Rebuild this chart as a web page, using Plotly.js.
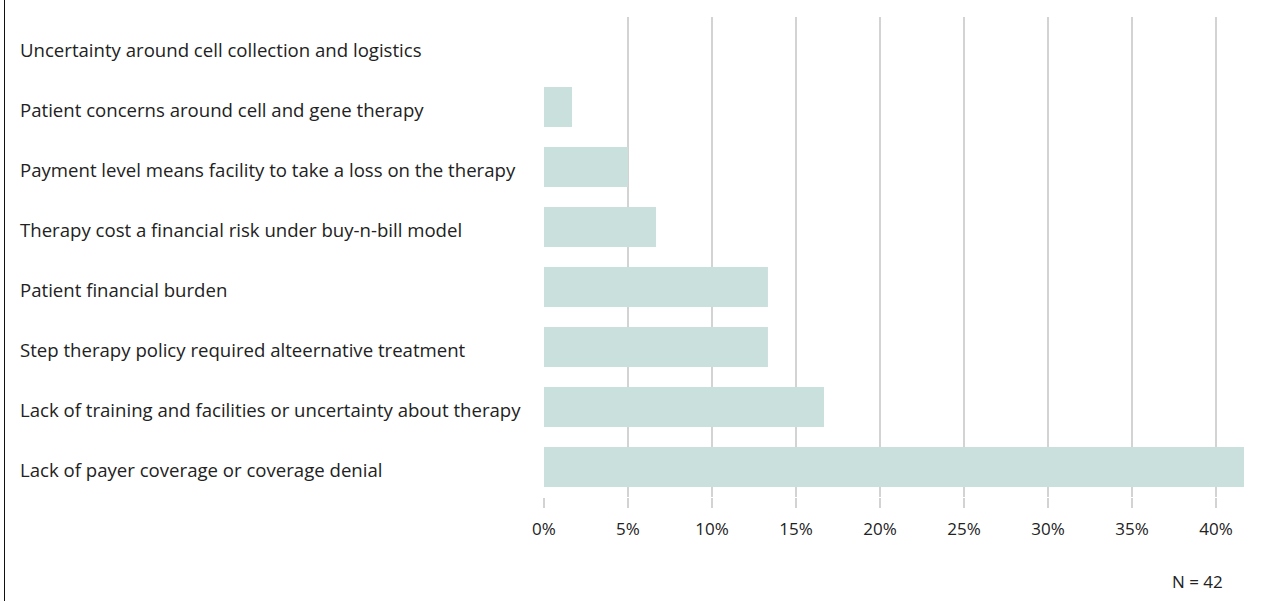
<!DOCTYPE html>
<html>
<head>
<meta charset="utf-8">
<script src="https://cdn.plot.ly/plotly-3.0.1.min.js"></script>
<style>
html,body{margin:0;padding:0;background:#fff;}
#chart{width:1267px;height:601px;position:relative;}
#edge{position:absolute;left:4px;top:0;width:1px;height:601px;background:#111;}
</style>
</head>
<body>
<div id="chart"></div>
<div id="edge"></div>
<script>
const categories = [
  "Uncertainty around cell collection and logistics",
  "Patient concerns around cell and gene therapy",
  "Payment level means facility to take a loss on the therapy",
  "Therapy cost a financial risk under buy-n-bill model",
  "Patient financial burden",
  "Step therapy policy required alteernative treatment",
  "Lack of training and facilities or uncertainty about therapy",
  "Lack of payer coverage or coverage denial"
];
const values = [0, 1.67, 5.0, 6.67, 13.33, 13.33, 16.67, 41.67];
const tickVals = [0, 5, 10, 15, 20, 25, 30, 35, 40];
const tickText = ["0%", "5%", "10%", "15%", "20%", "25%", "30%", "35%", "40%"];
const noteText = "N = 42";

const W = 1267, H = 601;
const mL = 544, mR = 23, mT = 17, mB = 104;
const plotW = W - mL - mR;
const font = "'Open Sans', sans-serif";

const annotations = categories.map(c => ({
  xref: 'paper', yref: 'y', x: (18 - mL) / plotW, y: c,
  xanchor: 'left', yanchor: 'middle', yshift: -2, text: c, showarrow: false,
  font: {family: font, size: 18.6, color: '#222'}
}));
annotations.push({
  xref: 'paper', yref: 'paper', x: (1197 - mL) / plotW, y: -(581 - (H - mB)) / (H - mT - mB),
  xanchor: 'center', yanchor: 'middle', text: noteText, showarrow: false,
  font: {family: font, size: 17, color: '#222'}
});

Plotly.newPlot('chart', [{
  type: 'bar', orientation: 'h',
  y: categories, x: values,
  marker: {color: '#cae0dd'},
  hoverinfo: 'none'
}], {
  width: W, height: H,
  margin: {l: mL, r: mR, t: mT, b: mB, pad: 0},
  paper_bgcolor: '#fff', plot_bgcolor: '#fff',
  bargap: 1/3,
  showlegend: false,
  xaxis: {
    range: [0, 41.67], tickvals: tickVals, ticktext: tickText,
    showgrid: true, gridcolor: '#d3d3d3', gridwidth: 2,
    zeroline: false, showline: false,
    ticks: 'outside', ticklen: 10, tickwidth: 2, tickcolor: '#d3d3d3',
    ticklabelstandoff: 7,
    tickfont: {family: font, size: 17, color: '#222'},
    layer: 'below traces'
  },
  yaxis: {
    categoryorder: 'array', categoryarray: categories,
    autorange: 'reversed', showticklabels: false, showgrid: false,
    zeroline: false, showline: false, ticks: ''
  },
  annotations: annotations
}, {displayModeBar: false, staticPlot: true});
</script>
</body>
</html>
